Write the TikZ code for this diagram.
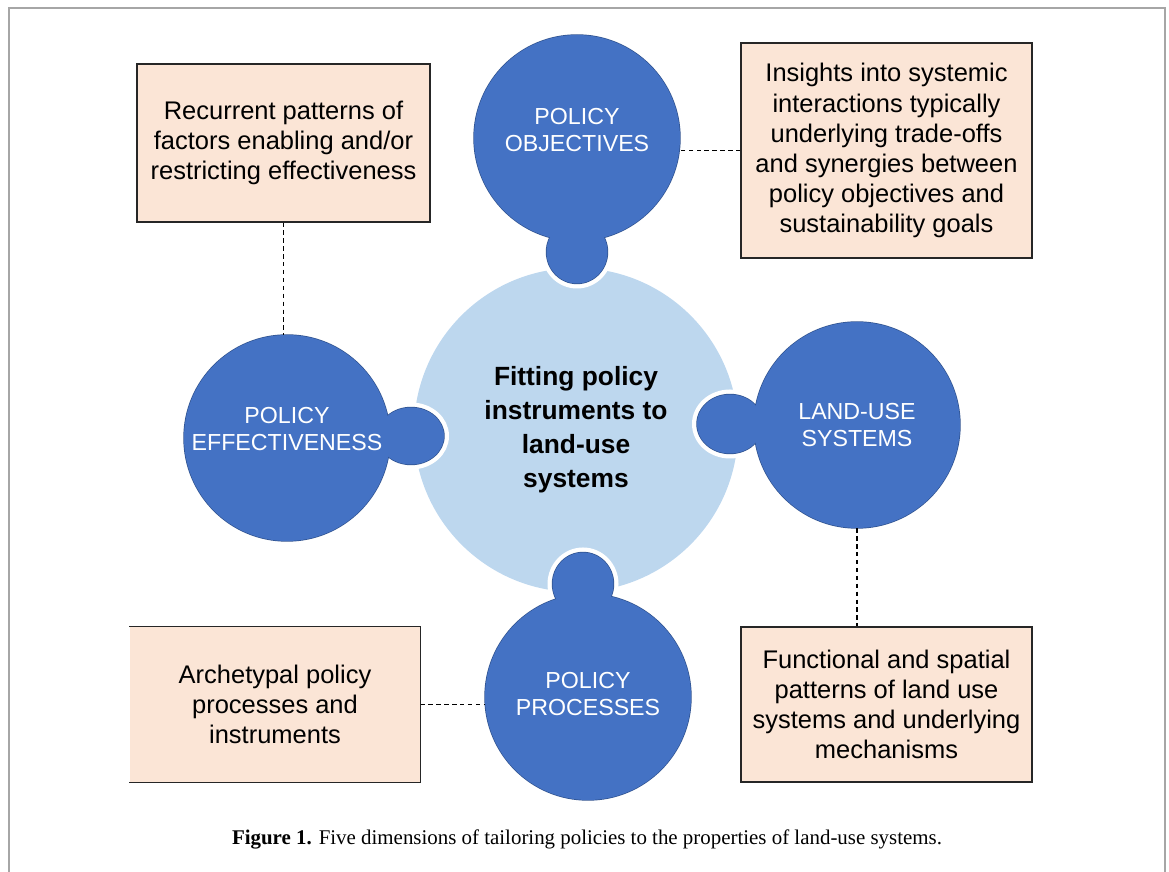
\documentclass[tikz,border=0pt]{standalone}
\usepackage{fontspec}
\setmainfont{Liberation Sans}
\newfontfamily\capfont{Liberation Serif}
\definecolor{piecefill}{HTML}{4472C4}
\definecolor{pieceedge}{HTML}{2F528F}
\definecolor{hubfill}{HTML}{BDD7EE}
\definecolor{notefill}{HTML}{FBE5D6}
\tikzset{
  hub/.style={circle, fill=hubfill, minimum size=6.48cm, inner sep=0pt, align=center,
    font=\fontsize{15}{19.3}\selectfont\bfseries},
  piece/.style={circle, fill=piecefill, minimum size=4.12cm, inner sep=0pt},
  piecetext/.style={align=center, text=white, inner sep=0pt, font=\fontsize{13.2}{15.9}\selectfont},
  gap/.style={draw=white, line width=0.2cm},
  rim/.style={draw=pieceedge, line width=0.8pt},
  note/.style={fill=notefill, draw=black!85, line width=0.6pt, inner sep=0pt, align=center,
    font=\fontsize{14.5}{17.1}\selectfont},
  link/.style={dash pattern=on 2.5pt off 2pt, line width=0.6pt}
}
\begin{document}
\begin{tikzpicture}
\useasboundingbox (0,0) rectangle (23.38,17.44);
% frame
\draw[gray!70, line width=0.7pt] (0.18,-0.1) -- (0.18,17.28) -- (23.30,17.28) -- (23.30,-0.1);

% centre piece
\node[hub] (fit) at (11.52,8.84) {Fitting policy\\instruments to\\land-use\\systems};

% white gaps round the tabs
\draw[gap] (11.54,12.40) ellipse (0.61 and 0.63);  % objectives
\draw[gap] (8.22,8.72) ellipse (0.66 and 0.57);    % effectiveness
\draw[gap] (14.60,8.96) ellipse (0.66 and 0.59);   % land use
\draw[gap] (11.66,5.76) ellipse (0.61 and 0.63);   % processes

% outer rims
\draw[rim]
    (11.54,14.68) circle (2.06)  (11.54,12.40) ellipse (0.61 and 0.63)
    (5.74,8.68) circle (2.06)    (8.22,8.72) ellipse (0.66 and 0.57)
    (17.14,8.94) circle (2.06)   (14.60,8.96) ellipse (0.66 and 0.59)
    (11.76,3.50) circle (2.06)   (11.66,5.76) ellipse (0.61 and 0.63);

% tabs
\fill[piecefill]
    (11.54,12.40) ellipse (0.61 and 0.63)
    (8.22,8.72) ellipse (0.66 and 0.57)
    (14.60,8.96) ellipse (0.66 and 0.59)
    (11.66,5.76) ellipse (0.61 and 0.63);

% outer pieces
\node[piece] (obj) at (11.54,14.68) {};
\node[piece] (eff) at (5.74,8.68) {};
\node[piece] (lus) at (17.14,8.94) {};
\node[piece] (proc) at (11.76,3.50) {};
\node[piecetext] (objtext) at ([yshift=0.16cm]obj) {POLICY\\OBJECTIVES};
\node[piecetext] (efftext) at ([yshift=0.18cm]eff) {POLICY\\EFFECTIVENESS};
\node[piecetext] (lustext) at (lus) {LAND-USE\\SYSTEMS};
\node[piecetext] (proctext) at ([yshift=0.06cm]proc) {POLICY\\PROCESSES};

% notes
\node[note, minimum width=5.86cm, minimum height=3.16cm] (effnote) at (5.67,14.58)
    {Recurrent patterns of\\factors enabling and/or\\restricting effectiveness};
\node[note, minimum width=5.82cm, minimum height=4.30cm] (objnote) at (17.73,14.43)
    {Insights into systemic\\interactions typically\\underlying trade-offs\\and synergies between\\policy objectives and\\sustainability goals};
\node[note, draw=none, minimum width=5.80cm, minimum height=3.10cm] (procnote) at (5.50,3.35)
    {Archetypal policy\\processes and\\instruments};
\draw[black!85, line width=0.6pt]
    (procnote.north west) -- (procnote.north east) -- (procnote.south east) -- (procnote.south west);
\node[note, minimum width=5.82cm, minimum height=3.10cm] (lusnote) at (17.73,3.35)
    {Functional and spatial\\patterns of land use\\systems and underlying\\mechanisms};

% links
\draw[link] (effnote.south) -- (effnote.south |- eff.north);
\draw[link] (objnote.west) -- (objnote.west -| obj.east);
\draw[link] (lus.south) -- (lus.south |- lusnote.north);
\draw[link] (procnote.east) -- (procnote.east -| proc.west);

% caption
\node[font=\capfont\fontsize{11.9}{14}\selectfont] (cap) at (11.74,0.66)
    {\textbf{Figure 1.} Five dimensions of tailoring policies to the properties of land-use systems.};
\end{tikzpicture}
\end{document}
